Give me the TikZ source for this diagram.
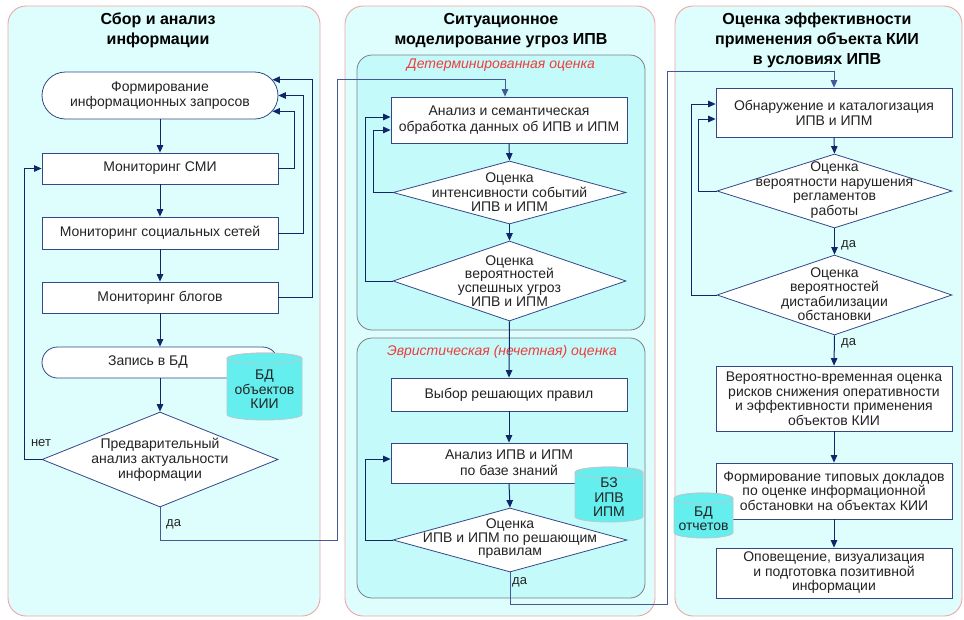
\documentclass[tikz,border=0pt]{standalone}
\usepackage{fontspec}
\setmainfont{Liberation Sans}
\usetikzlibrary{shapes.geometric,shapes.misc,arrows.meta}

\definecolor{panelfill}{RGB}{222,254,254}
\definecolor{panelline}{RGB}{240,165,165}
\definecolor{subfill}{RGB}{196,250,250}
\definecolor{subline}{RGB}{125,125,135}
\definecolor{boxline}{RGB}{50,72,135}
\definecolor{flow}{RGB}{16,38,105}
\definecolor{longflow}{RGB}{70,88,150}
\definecolor{dbfill}{RGB}{100,238,238}
\definecolor{dbline}{RGB}{185,200,205}
\definecolor{notecol}{RGB}{240,60,60}
\definecolor{ink}{RGB}{35,35,35}

% database drum: #1 name, #2 left, #3 right, #4 top, #5 bottom, #6 label
\newcommand{\dbdrum}[6]{%
  \pgfmathsetmacro{\drumrx}{(#3-#2)/2}%
  \path[draw=dbline,fill=dbfill,line width=0.8pt]
    (#2,#4+5.5) -- (#2,#5-5.5)
    arc[start angle=180,end angle=360,x radius=\drumrx pt,y radius=5.5pt]
    -- (#3,#4+5.5)
    arc[start angle=0,end angle=180,x radius=\drumrx pt,y radius=5.5pt]
    -- cycle;
  \draw[dbline,line width=0.8pt] ({(#2+#3)/2},#4+5.5) ellipse[x radius=\drumrx pt,y radius=5.5pt];
  \node[txt] (#1) at ({(#2+#3)/2},{(#4+#5)/2+3}) {#6};%
}

\begin{document}
\begin{tikzpicture}[x=1pt,y=-1pt,
  panel/.style={draw=panelline,fill=panelfill,line width=0.9pt,rounded corners=18pt},
  subpanel/.style={draw=subline,fill=subfill,line width=0.8pt,rounded corners=15pt},
  txt/.style={align=center,text=ink,font=\fontsize{14}{14.5}\selectfont,inner sep=0pt},
  proc/.style={txt,rectangle,draw=boxline,fill=white,line width=0.8pt,minimum width=236pt},
  term/.style={rounded rectangle,draw=boxline,fill=white,line width=0.8pt,minimum width=236pt,inner sep=0pt},
  dec/.style={diamond,draw=boxline,fill=white,line width=0.8pt,inner sep=0pt},
  ttl/.style={align=center,text=black,font=\fontsize{16}{20}\selectfont\bfseries},
  subttl/.style={text=notecol,font=\fontsize{14}{16}\selectfont\itshape},
  tag/.style={text=ink,font=\fontsize{13}{15}\selectfont,inner sep=0pt},
  arr/.style={draw=flow,line width=1pt,-{Triangle[length=7.5pt,width=6.5pt]}},
]
\useasboundingbox (0,0) rectangle (964,619);

% column frames
\draw[panel] (8,6) rectangle (320,616);
\draw[panel] (345,6) rectangle (655,616);
\draw[panel] (675,6) rectangle (962,616);
\draw[subpanel] (357,55) rectangle (645,330);
\draw[subpanel] (357,338) rectangle (645,598);

% column headings
\node[ttl] (t1) at (158,30.5) {Сбор и анализ\\информации};
\node[ttl] (t2) at (501,31) {Ситуационное\\моделирование угроз ИПВ};
\node[ttl] (t3) at (817,40) {Оценка эффективности\\применения объекта КИИ\\в условиях ИПВ};
\node[subttl] (s1) at (501,65) {Детерминированная оценка};
\node[subttl] (s2) at (502,352) {Эвристическая (нечетная) оценка};

% left column
\node[term,minimum height=47pt,txt] (f) at (160,95.5) {Формирование\\информационных запросов};
\node[proc,minimum height=31pt] (m1) at (160,168.5) {Мониторинг СМИ};
\node[proc,minimum height=32pt] (m2) at (160,233) {Мониторинг социальных сетей};
\node[proc,minimum height=31pt] (m3) at (160,297.5) {Мониторинг блогов};
\node[term,minimum height=31pt] (z) at (160,362.5) {};
\node[txt] (zt) at (148,362.5) {Запись в БД};
\node[dec,minimum width=236pt,minimum height=95pt] (d1) at (160,459.5) {};
\node[txt,font=\fontsize{14}{15}\selectfont] (d1t) at (d1) {Предварительный\\анализ актуальности\\информации};

% middle column
\node[proc,minimum height=46pt,font=\fontsize{14}{16}\selectfont] (a1) at (509,120) {Анализ и семантическая\\обработка данных об ИПВ и ИПМ};
\node[dec,minimum width=233pt,minimum height=63pt] (d2) at (509.5,192.5) {};
\node[txt] (d2t) at (d2) {Оценка\\интенсивности событий\\ИПВ и ИПМ};
\node[dec,minimum width=233pt,minimum height=80pt] (d3) at (509.5,281) {};
\node[txt,font=\fontsize{14}{13.8}\selectfont] (d3t) at (d3) {Оценка\\вероятностей\\успешных угроз\\ИПВ и ИПМ};
\node[proc,minimum height=33pt] (v1) at (509,394.5) {Выбор решающих правил};
\node[proc,minimum height=40pt,font=\fontsize{14}{16}\selectfont] (v2) at (509,463) {Анализ ИПВ и ИПМ\\по базе знаний};
\node[dec,minimum width=234pt,minimum height=64pt] (d4) at (510,540) {};
\node[txt,font=\fontsize{14}{13.5}\selectfont] (d4t) at (510,539) {Оценка\\ИПВ и ИПМ по решающим\\правилам};

% right column
\node[proc,minimum height=49pt,font=\fontsize{14}{15}\selectfont] (r1) at (834,112.5) {Обнаружение и каталогизация\\ИПВ и ИПМ};
\node[dec,minimum width=235pt,minimum height=74pt] (d5) at (834.5,191) {};
\node[txt] (d5t) at (834.5,190) {Оценка\\вероятности нарушения\\регламентов\\работы};
\node[dec,minimum width=235pt,minimum height=80pt] (d6) at (834.5,295) {};
\node[txt] (d6t) at (834.5,294) {Оценка\\вероятностей\\дистабилизации\\обстановки};
\node[proc,minimum height=65pt] (r2) at (834,398.5) {Вероятностно-временная оценка\\рисков снижения оперативности\\и эффективности применения\\объектов КИИ};
\node[proc,minimum height=56pt] (r3) at (834,491) {Формирование типовых докладов\\по оценке информационной\\обстановки на объектах КИИ};
\node[proc,minimum height=50pt] (r4) at (834,573) {Оповещение, визуализация\\и подготовка позитивной\\информации};

% flow inside the left column
\draw[arr] (f.south) -- (m1.north);
\draw[arr] (m1.south) -- (m2.north);
\draw[arr] (m2.south) -- (m3.north);
\draw[arr] (m3.south) -- (z.north);
\draw[arr] (z.south) -- (d1.north);
\draw[arr] (m1.east) -- ++(16,0) |- (f.-8.4);
\draw[arr] (m2.east) -- ++(25,0) |- (f.east);
\draw[arr] (m3.east) -- ++(34,0) |- (f.8.4);
\draw[arr] (d1.west) -- ++(-17,0) |- (m1.west);
\node[tag] (no) at (41,443) {нет};
\node[tag,anchor=west] (yes1) at (166,524) {да};

% hand-over to the modelling column
\coordinate (j1) at (337,540);
\coordinate (j2) at (337,79);
\draw[arr,draw=longflow] (d1.south) |- (j1) -- (j2) -| ([xshift=-4pt]a1.north);

% flow inside the middle column
\draw[arr] (a1.south) -- (d2.north);
\draw[arr] (d2.south) -- (d3.north);
\draw[arr] (d3.south) -- (v1.north);
\draw[arr] (v1.south) -- (v2.north);
\draw[arr] (v2.south) -- (d4.north);
\draw[arr] (d2.west) -- ++(-19,0) |- ([yshift=-10pt]a1.west);
\draw[arr] (d3.west) -- ++(-27,0) |- ([yshift=3pt]a1.west);
\draw[arr] (d4.west) -- ++(-27,0) |- ([yshift=4pt]v2.west);
\node[tag,anchor=west] (yes2) at (512,582) {да};

% hand-over to the assessment column
\coordinate (j3) at (667,604);
\coordinate (j4) at (667,71);
\draw[arr,draw=longflow] (d4.south) |- (j3) -- (j4) -| (r1.north);

% flow inside the right column
\draw[arr] (r1.south) -- (d5.north);
\draw[arr] (d5.south) -- (d6.north);
\draw[arr] (d6.south) -- (r2.north);
\draw[arr] (r2.south) -- (r3.north);
\draw[arr] (r3.south) -- (r4.north);
\draw[arr] (d5.west) -- ++(-18,0) |- ([yshift=-6.5pt]r1.west);
\draw[arr] (d6.west) -- ++(-25,0) |- ([yshift=8.5pt]r1.west);
\node[tag,anchor=west] (yes3) at (841,245) {да};
\node[tag,anchor=west] (yes4) at (841,343) {да};

% databases
\dbdrum{db1}{227}{302}{353}{420}{БД\\объектов\\КИИ}
\dbdrum{db2}{575}{643}{467}{522}{БЗ\\ИПВ\\ИПМ}
\dbdrum{db3}{674}{733}{493}{538}{БД\\отчетов}
\end{tikzpicture}
\end{document}
